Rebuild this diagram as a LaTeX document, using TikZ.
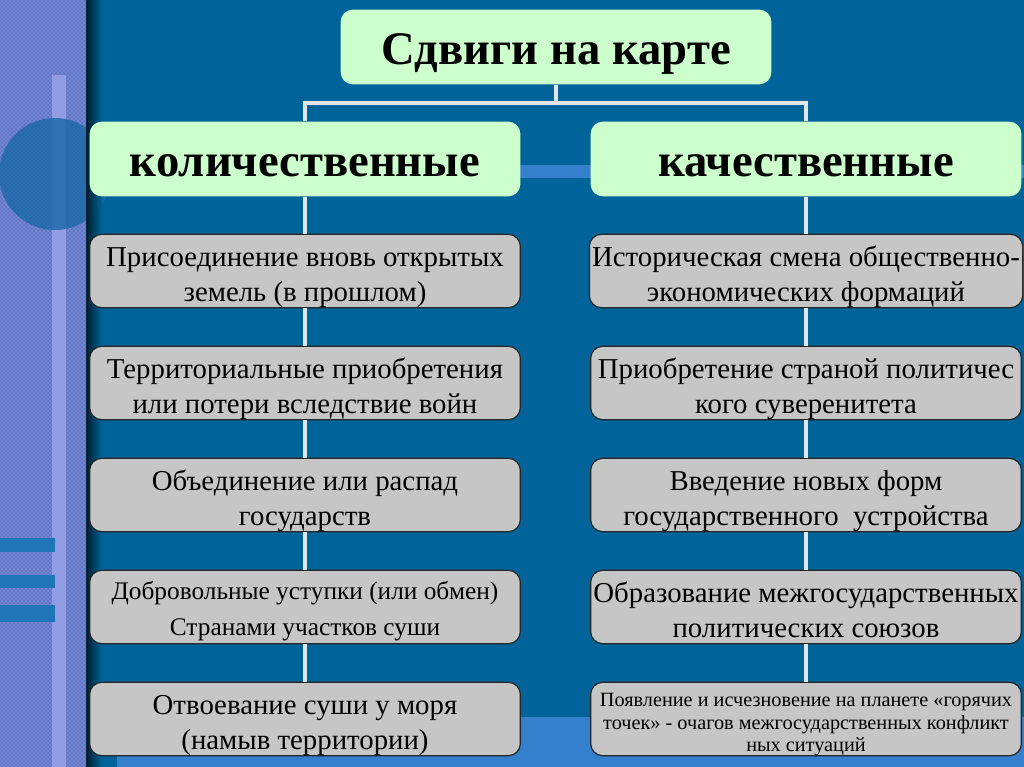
\documentclass[tikz,border=0pt]{standalone}
\usepackage{fontspec}
\setmainfont{Liberation Serif}
\usetikzlibrary{patterns}

\definecolor{bgblue}{RGB}{0,100,154}
\definecolor{bandblue}{RGB}{52,128,204}
\definecolor{stripblue}{RGB}{96,116,200}
\definecolor{barlight}{RGB}{150,160,230}
\definecolor{headgreen}{RGB}{204,255,204}
\definecolor{boxgray}{RGB}{198,198,198}
\definecolor{linkwhite}{RGB}{226,230,234}

\tikzset{
  head/.style={fill=headgreen, rounded corners=9pt, minimum width=323pt,
    minimum height=56pt, text height=33pt, text depth=7pt,
    font=\bfseries\fontsize{35}{38}\selectfont},
  item/.style={fill=boxgray, draw=black!85, line width=0.9pt, rounded corners=9pt,
    minimum width=323pt, minimum height=55pt, align=center, inner xsep=2pt,
    inner ysep=0pt, text height=50pt, text depth=4.8pt,
    font=\fontsize{21.6}{26}\selectfont},
  mid/.style={text height=47.8pt, text depth=5pt, font=\fontsize{19}{27}\selectfont},
  small/.style={text height=52pt, text depth=3pt, font=\fontsize{15.2}{17}\selectfont},
  link/.style={draw=linkwhite, line width=3.6pt},
}

\begin{document}
\begin{tikzpicture}[x=0.75pt,y=-0.75pt]
  \useasboundingbox (0,0) rectangle (1024,767);
  \newcommand{\gap}{112}

  \fill[bgblue] (0,0) rectangle (1024,767);
  \fill[bandblue] (60,165) rectangle (1024,178);
  \fill[bandblue] (117,717) rectangle (1024,767);
  \fill[stripblue] (0,0) rectangle (86,767);
  \fill[pattern=crosshatch dots, pattern color=white!60!stripblue] (0,0) rectangle (86,767);
  \fill[barlight, opacity=0.9] (52,75) rectangle (66,767);
  \fill[bgblue!75!stripblue, opacity=0.8] (55,174) circle (56);
  \foreach \a/\b in {538/552, 575/588, 605/622} {
    \fill[bandblue!60!bgblue] (0,\a) rectangle (55,\b);
  }
  \shade[left color=black!70!bgblue, right color=bgblue] (86,0) rectangle (102,767);

  \node[head] (top) at (556,47) {Сдвиги на карте};
  \node[head] (l-0) at (305,159) {количественные};
  \node[head] (r-0) at (806,159) {качественные};

  \foreach \x/\s/\txt in {1/item/{Присоединение вновь открытых\\земель (в прошлом)},
      2/item/{Территориальные приобретения\\или потери вследствие войн},
      3/item/{Объединение или распад\\государств},
      4/mid/{Добровольные уступки (или обмен)\\Странами участков суши},
      5/item/{Отвоевание суши у моря\\(намыв территории)}} {
    \node[item, \s] (l-\x) at (305,159+\gap*\x) {\txt};
  }

  \foreach \x/\s/\txt in {1/item/{Историческая смена общественно-\\экономических формаций},
      2/item/{Приобретение страной политичес\\кого суверенитета},
      3/item/{Введение новых форм\\государственного\ \ устройства},
      4/item/{Образование межгосударственных\\политических союзов},
      5/small/{Появление и исчезновение на планете «горячих\\точек» - очагов межгосударственных конфликт\\ных ситуаций}} {
    \node[item, \s] (r-\x) at (806,159+\gap*\x) {\txt};
  }

  \coordinate (fork) at (556,103);
  \draw[link] (top) -- (fork);
  \draw[link] (l-0.north) |- (fork) -| (r-0.north);

  \foreach \from/\to in {0/1, 1/2, 2/3, 3/4, 4/5} {
    \draw[link] (l-\from) -- (l-\to);
    \draw[link] (r-\from) -- (r-\to);
  }

\end{tikzpicture}
\end{document}
